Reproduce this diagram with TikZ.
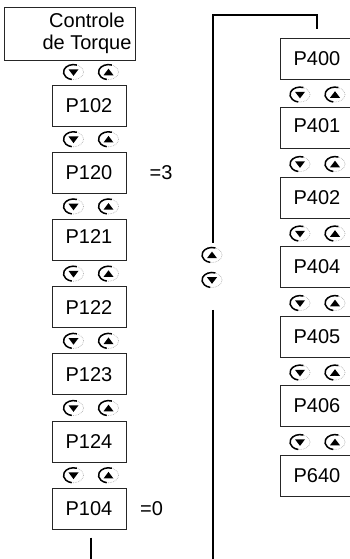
\documentclass[tikz,border=0pt]{standalone}
\usepackage{fontspec}
\setmainfont{Liberation Sans}
\usepackage{tikz}
\usetikzlibrary{positioning}

\begin{document}
\begin{tikzpicture}[x=1pt, y=1pt, node distance=67.2pt, on grid,
        font=\fontsize{20}{22}\selectfont,
        param/.style={draw=black!85, line width=0.8pt, minimum width=74pt, minimum height=41pt, inner sep=0pt},
        link/.style={line width=2.8pt},
        dnkey/.pic={
            \draw[gray!60, densely dotted, line width=0.7pt] (0,0) ellipse [x radius=10, y radius=7.5];
            \draw[line width=1.5pt] (70:10 and 7.5) arc [start angle=70, end angle=260, x radius=10, y radius=7.5];
            \fill (-5,2.8) -- (5,2.8) -- (0,-3.8) -- cycle;
        },
        upkey/.pic={
            \draw[gray!60, densely dotted, line width=0.7pt] (0,0) ellipse [x radius=10, y radius=7.5];
            \draw[line width=1.5pt] (70:10 and 7.5) arc [start angle=70, end angle=260, x radius=10, y radius=7.5];
            \fill (-5,-3.2) -- (5,-3.2) -- (0,3.4) -- cycle;
        },
        keypair/.pic={
            \pic at (-17.5,0) {dnkey};
            \pic at (17.5,0) {upkey};
        }]
        \useasboundingbox (0,0) rectangle (350,559);

        % left column
        \node[param, minimum width=131pt, minimum height=53pt] (ctl) at (69.5,525.5) {};
        \node[align=center] (ctltxt) at (87,525.5) {Controle\\de Torque};
        \node[param] (p102) at (89,453.5) {P102};
        \node[param] (p120) [below=of p102] {P120};
        \node[param, text depth=6pt] (p121) [below=of p120] {P121};
        \node[param] (p122) [below=of p121] {P122};
        \node[param] (p123) [below=of p122] {P123};
        \node[param] (p124) [below=of p123] {P124};
        \node[param] (p104) [below=of p124] {P104};
        \node (v120) [right=72pt of p120] {=3};
        \node (v104) [right=62.5pt of p104] {=0};

        % right column
        \node[param] (p400) at (317,500.5) {P400};
        \node[param, text depth=4pt] (p401) [below=69.5pt of p400] {P401};
        \node[param] (p402) [below=69.5pt of p401] {P402};
        \node[param] (p404) [below=69.5pt of p402] {P404};
        \node[param] (p405) [below=69.5pt of p404] {P405};
        \node[param] (p406) [below=69.5pt of p405] {P406};
        \node[param] (p640) [below=69.5pt of p406] {P640};

        \path (p102.north) ++(2,12.5) pic {keypair};
        \path (p120.north) ++(2,12.5) pic {keypair};
        \path (p121.north) ++(2,12.5) pic {keypair};
        \path (p122.north) ++(2,12.5) pic {keypair};
        \path (p123.north) ++(2,12.5) pic {keypair};
        \path (p124.north) ++(2,12.5) pic {keypair};
        \path (p104.north) ++(2,12.5) pic {keypair};
        \path (p401.north) ++(0.5,12.5) pic {keypair};
        \path (p402.north) ++(0.5,12.5) pic {keypair};
        \path (p404.north) ++(0.5,12.5) pic {keypair};
        \path (p405.north) ++(0.5,12.5) pic {keypair};
        \path (p406.north) ++(0.5,12.5) pic {keypair};
        \path (p640.north) ++(0.5,12.5) pic {keypair};

        % loop back
        \coordinate (mtop) at (213,316);
        \coordinate (corner) at (213,544);
        \coordinate (mbot) at (213,249);
        \coordinate (mout) at (213,-5);
        \coordinate (lout) at (91,-5);
        \pic at (212,304) {upkey};
        \pic at (212,279) {dnkey};
        \draw[link] (mtop) -- (corner) -| ([yshift=9pt]p400.north);
        \draw[link] (mbot) -- (mout);
        \draw[link] ([xshift=2pt, yshift=-8pt]p104.south) -- (lout);
\end{tikzpicture}
\end{document}
